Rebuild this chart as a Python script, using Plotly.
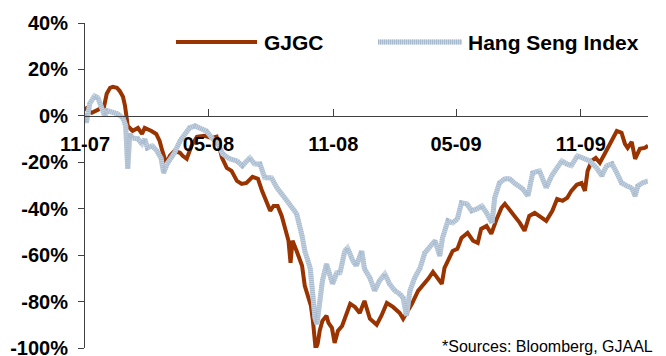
import plotly.graph_objects as go

# ---------------- data ----------------
gjgc_dates = [
    "2007-11-01", "2007-11-05", "2007-11-11", "2007-11-17", "2007-11-23", "2007-11-29",
    "2007-12-03", "2007-12-08", "2007-12-12", "2007-12-18", "2007-12-22", "2007-12-27",
    "2007-12-30", "2008-01-01", "2008-01-03", "2008-01-06", "2008-01-10", "2008-01-18",
    "2008-01-24", "2008-01-28", "2008-02-01", "2008-02-07", "2008-02-14", "2008-02-19",
    "2008-02-23", "2008-02-29", "2008-03-05", "2008-03-12", "2008-03-20", "2008-03-24",
    "2008-03-30", "2008-04-06", "2008-04-14", "2008-04-25", "2008-05-06", "2008-05-13",
    "2008-05-21", "2008-05-28", "2008-06-04", "2008-06-12", "2008-06-19", "2008-06-26",
    "2008-07-05", "2008-07-13", "2008-07-19", "2008-07-25", "2008-07-31", "2008-08-05",
    "2008-08-11", "2008-08-17", "2008-08-21", "2008-08-27", "2008-08-30", "2008-09-02",
    "2008-09-08", "2008-09-16", "2008-09-20", "2008-09-24", "2008-09-29", "2008-10-02",
    "2008-10-05", "2008-10-06", "2008-10-09", "2008-10-12", "2008-10-16", "2008-10-22",
    "2008-10-25", "2008-10-30", "2008-11-03", "2008-11-08", "2008-11-14", "2008-11-21",
    "2008-11-26", "2008-12-03", "2008-12-10", "2008-12-17", "2008-12-25", "2009-01-04",
    "2009-01-11", "2009-01-19", "2009-01-28", "2009-02-07", "2009-02-12", "2009-02-17",
    "2009-02-25", "2009-03-06", "2009-03-13", "2009-03-21", "2009-03-28", "2009-04-04",
    "2009-04-10", "2009-04-14", "2009-04-20", "2009-04-26", "2009-05-03", "2009-05-09",
    "2009-05-18", "2009-05-26", "2009-06-02", "2009-06-07", "2009-06-15", "2009-06-22",
    "2009-06-30", "2009-07-07", "2009-07-12", "2009-07-19", "2009-07-26", "2009-08-03",
    "2009-08-10", "2009-08-17", "2009-08-25", "2009-09-01", "2009-09-11", "2009-09-20",
    "2009-09-27", "2009-10-05", "2009-10-12", "2009-10-18", "2009-10-26", "2009-11-02",
    "2009-11-07", "2009-11-11", "2009-11-17", "2009-11-23", "2009-11-29", "2009-12-06",
    "2009-12-14", "2009-12-20", "2009-12-24", "2009-12-31", "2010-01-05", "2010-01-09",
    "2010-01-15", "2010-01-20", "2010-01-27", "2010-02-03", "2010-02-08",
]
gjgc_values = [
    3.9, 2.2, 1.3, 2.2, 3.0, 3.9,
    9.5, 12.1, 12.5, 12.1, 10.8, 8.2,
    4.3, 0.9, -4.3, -5.2, -6.5, -5.2,
    -7.8, -5.2, -5.6, -6.5, -7.8, -10.8,
    -15.1, -20.7, -17.2, -15.1, -15.9, -17.2,
    -18.5, -12.9, -9.0, -8.6, -9.5, -9.0,
    -18.1, -22.4, -23.7, -28.0, -29.3, -28.9,
    -26.3, -27.1, -32.3, -36.6, -40.9, -38.8,
    -38.8, -43.1, -47.4, -53.8, -63.3, -53.8,
    -58.2, -64.6, -73.2, -76.7, -81.8, -88.3,
    -96.9, -100.4, -98.2, -92.6, -88.3, -86.1,
    -89.2, -91.3, -97.8, -92.6, -90.5, -84.9,
    -81.0, -82.3, -84.9, -79.7, -87.4, -90.0,
    -86.1, -80.6, -82.3, -84.9, -87.4, -84.9,
    -81.0, -75.4, -73.2, -70.2, -67.2, -70.2,
    -72.4, -65.5, -61.6, -58.2, -57.3, -52.6,
    -50.4, -53.8, -54.7, -48.7, -47.4, -50.8,
    -44.4, -39.6, -37.9, -40.5, -43.5, -46.1,
    -49.5, -43.1, -41.8, -43.1, -45.2, -40.9,
    -35.8, -36.6, -35.3, -32.3, -29.7, -28.9,
    -32.3, -23.7, -19.4, -18.1, -20.2, -16.4,
    -12.1, -8.6, -6.5, -7.3, -12.1, -13.8,
    -11.2, -18.5, -14.2, -13.8, -12.9,
]

hsi_dates = [
    "2007-11-01", "2007-11-03", "2007-11-08", "2007-11-15", "2007-11-20", "2007-11-26",
    "2007-11-30", "2007-12-04", "2007-12-12", "2007-12-19", "2007-12-27", "2007-12-31",
    "2008-01-03", "2008-01-06", "2008-01-10", "2008-01-18", "2008-01-24", "2008-01-28",
    "2008-02-01", "2008-02-08", "2008-02-15", "2008-02-21", "2008-02-25", "2008-03-01",
    "2008-03-07", "2008-03-12", "2008-03-20", "2008-03-27", "2008-04-03", "2008-04-11",
    "2008-04-18", "2008-04-28", "2008-05-06", "2008-05-15", "2008-05-22", "2008-06-01",
    "2008-06-12", "2008-06-20", "2008-07-01", "2008-07-08", "2008-07-16", "2008-07-23",
    "2008-08-02", "2008-08-10", "2008-08-17", "2008-08-24", "2008-09-01", "2008-09-08",
    "2008-09-16", "2008-09-20", "2008-09-28", "2008-10-02", "2008-10-05", "2008-10-08",
    "2008-10-12", "2008-10-16", "2008-10-22", "2008-10-27", "2008-10-31", "2008-11-06",
    "2008-11-11", "2008-11-18", "2008-11-22", "2008-11-30", "2008-12-05", "2008-12-13",
    "2008-12-17", "2008-12-25", "2009-01-01", "2009-01-08", "2009-01-16", "2009-01-23",
    "2009-01-31", "2009-02-07", "2009-02-12", "2009-02-17", "2009-02-22", "2009-03-01",
    "2009-03-09", "2009-03-16", "2009-03-24", "2009-03-31", "2009-04-07", "2009-04-11",
    "2009-04-19", "2009-04-26", "2009-05-03", "2009-05-09", "2009-05-17", "2009-05-24",
    "2009-06-01", "2009-06-08", "2009-06-15", "2009-06-23", "2009-06-27", "2009-07-04",
    "2009-07-12", "2009-07-19", "2009-07-26", "2009-08-03", "2009-08-07", "2009-08-15",
    "2009-08-22", "2009-09-01", "2009-09-11", "2009-09-19", "2009-09-26", "2009-10-04",
    "2009-10-11", "2009-10-18", "2009-10-27", "2009-11-07", "2009-11-14", "2009-11-24",
    "2009-12-02", "2009-12-09", "2009-12-17", "2009-12-24", "2009-12-31", "2010-01-08",
    "2010-01-15", "2010-01-20", "2010-01-24", "2010-01-31", "2010-02-08",
]
hsi_values = [
    0.9, -3.0, 5.2, 8.6, 7.8, 3.4,
    0.0, 2.2, 1.3, 0.9, -0.9, -4.3,
    -22.8, -7.8, -9.5, -9.9, -12.1, -9.9,
    -13.8, -12.9, -15.1, -18.1, -24.6, -20.7,
    -18.1, -15.9, -10.8, -7.8, -5.2, -4.3,
    -5.2, -6.5, -9.5, -12.1, -16.4, -18.5,
    -19.4, -21.5, -18.1, -20.7, -20.7, -26.7,
    -26.7, -31.0, -33.6, -36.6, -39.6, -42.2,
    -51.7, -58.2, -65.5, -76.7, -87.0, -89.6,
    -81.0, -71.1, -63.8, -68.1, -72.4, -67.6,
    -67.6, -58.2, -56.9, -62.5, -64.6, -58.2,
    -65.9, -69.8, -75.4, -71.1, -68.1, -72.4,
    -75.4, -76.7, -78.4, -86.1, -75.4, -69.8,
    -65.5, -59.0, -56.0, -53.8, -60.3, -52.6,
    -45.2, -46.1, -44.4, -37.5, -37.9, -40.9,
    -40.1, -38.8, -41.8, -46.1, -35.3, -28.9,
    -27.1, -27.1, -28.9, -30.2, -31.4, -34.5,
    -24.6, -23.7, -31.0, -25.8, -22.8, -19.4,
    -20.7, -21.5, -17.2, -18.5, -19.4, -22.4,
    -25.8, -21.5, -20.7, -24.6, -28.9, -30.2,
    -31.0, -34.5, -30.2, -28.9, -28.0,
]

x_tick_dates = ["2007-11-01", "2008-05-01", "2008-11-01", "2009-05-01", "2009-11-01"]
x_tick_labels = ["11-07", "05-08", "11-08", "05-09", "11-09"]
y_tick_values = [-100, -80, -60, -40, -20, 0, 20, 40]
y_tick_labels = ["-100%", "-80%", "-60%", "-40%", "-20%", "0%", "20%", "40%"]
series_names = ["GJGC", "Hang Seng Index"]
source_note = "*Sources: Bloomberg, GJAAL"

# ---------------- styling ----------------
RED = "#993300"
BLUE_LIGHT = "#c8d5e3"
BLUE_DARK = "#a6b9cd"
AXIS = "#404040"
FONT = "Liberation Sans, Arial, sans-serif"
Y_MIN, Y_MAX = -100, 40

fig = go.Figure()
fig.add_trace(go.Scatter(x=gjgc_dates, y=gjgc_values, mode="lines", name=series_names[0],
                         line=dict(color=RED, width=4), showlegend=False))
# Hang Seng: light base line with a fine striped overlay (pattern look)
fig.add_trace(go.Scatter(x=hsi_dates, y=hsi_values, mode="lines", name=series_names[1],
                         line=dict(color=BLUE_LIGHT, width=5), showlegend=False))
fig.add_trace(go.Scatter(x=hsi_dates, y=hsi_values, mode="lines", name=series_names[1],
                         line=dict(color=BLUE_DARK, width=5, dash="1px,1px"),
                         showlegend=False, hoverinfo="skip"))

zero_pos = (0 - Y_MIN) / (Y_MAX - Y_MIN)

fig.update_layout(
    width=666, height=356,
    margin=dict(l=85, r=18, t=23, b=8, autoexpand=False),
    paper_bgcolor="white", plot_bgcolor="white",
    font=dict(family=FONT, color="black"),
    showlegend=False,
    xaxis=dict(
        type="date", range=["2007-11-01", "2010-02-08"],
        anchor="free", position=zero_pos, automargin=False,
        tickmode="array", tickvals=x_tick_dates, ticktext=x_tick_labels,
        ticks="inside", ticklen=7, tickcolor=AXIS, tickwidth=1,
        showline=True, linecolor=AXIS, linewidth=1,
        showgrid=False, zeroline=False,
        tickfont=dict(size=20, family=FONT, color="black", weight="bold"),
        ticklabelstandoff=10,
    ),
    yaxis=dict(
        range=[Y_MIN, Y_MAX], automargin=False,
        tickmode="array", tickvals=y_tick_values, ticktext=y_tick_labels,
        ticks="outside", ticklen=6, tickcolor=AXIS, tickwidth=1,
        showline=True, linecolor=AXIS, linewidth=1,
        showgrid=False, zeroline=False,
        tickfont=dict(size=20, family=FONT, color="black", weight="bold"),
        ticklabelstandoff=6,
        ticklabeloverflow="allow",
    ),
)

# manual legend (long line samples as in the reference)
leg_y = 0.9415
fig.add_shape(type="line", xref="paper", yref="paper", x0=0.1616, x1=0.3055, y0=leg_y, y1=leg_y,
              line=dict(color=RED, width=4))
fig.add_shape(type="line", xref="paper", yref="paper", x0=0.5204, x1=0.6696, y0=leg_y, y1=leg_y,
              line=dict(color=BLUE_LIGHT, width=5))
fig.add_shape(type="line", xref="paper", yref="paper", x0=0.5204, x1=0.6696, y0=leg_y, y1=leg_y,
              line=dict(color=BLUE_DARK, width=5, dash="1px,1px"))
fig.add_annotation(text=series_names[0], xref="paper", yref="paper", x=0.3144, y=leg_y,
                   xanchor="left", yanchor="middle", showarrow=False,
                   font=dict(size=21, family=FONT, color="black", weight="bold"))
fig.add_annotation(text=series_names[1], xref="paper", yref="paper", x=0.6767, y=leg_y,
                   xanchor="left", yanchor="middle", showarrow=False,
                   font=dict(size=21, family=FONT, color="black", weight="bold"))
fig.add_annotation(text=source_note, xref="paper", yref="paper", x=0.6306, y=-0.0262,
                   xanchor="left", yanchor="bottom", showarrow=False,
                   font=dict(size=16, family=FONT, color="black"))

fig.write_html("out.html")
